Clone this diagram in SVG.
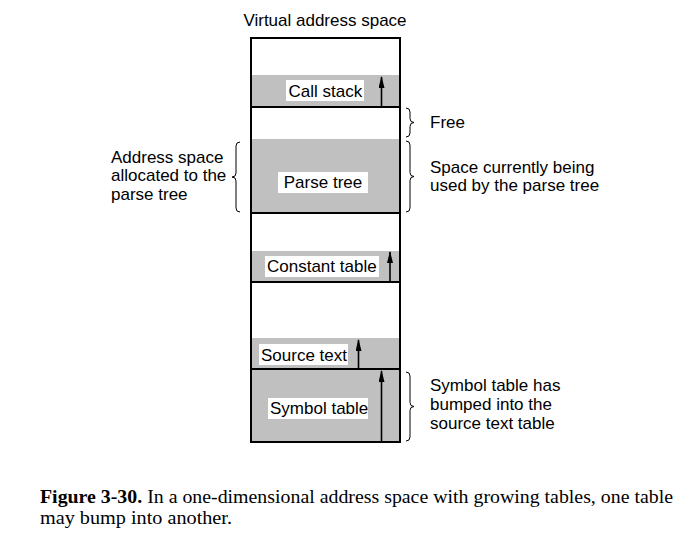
<svg xmlns="http://www.w3.org/2000/svg" width="695" height="538" viewBox="0 0 695 538">
<defs>
<style>
.t{font-family:"Liberation Sans",Arial,sans-serif;font-size:17px;fill:#000}
.cap{font-family:"Liberation Serif","Times New Roman",serif;font-size:18px;fill:#000}
.band{fill:#c0c0c0}
.lbl{fill:#fff}
.sep{stroke:#000;stroke-width:2;fill:none}
.arr{stroke:#000;stroke-width:1.6;fill:none}
.br{stroke:#000;stroke-width:1;fill:none}
</style>
<marker id="ah" viewBox="0 0 12 6" refX="11" refY="3" markerWidth="12" markerHeight="6" markerUnits="userSpaceOnUse" orient="auto">
<path d="M0,0 L12,3 L0,6 Z" fill="#000"/>
</marker>
</defs>
<rect width="695" height="538" fill="#fff"/>
<text class="t" x="325" y="26" text-anchor="middle">Virtual address space</text>
<g id="memory">
<rect class="band" x="251" y="75" width="149" height="32"/>
<rect class="band" x="251" y="139" width="149" height="74"/>
<rect class="band" x="251" y="251" width="149" height="31"/>
<rect class="band" x="251" y="338" width="149" height="31"/>
<rect class="band" x="251" y="369" width="149" height="73"/>
<line class="sep" x1="251" y1="107" x2="400" y2="107"/>
<line class="sep" x1="251" y1="213" x2="400" y2="213"/>
<line class="sep" x1="251" y1="282" x2="400" y2="282"/>
<line class="sep" x1="251" y1="369" x2="400" y2="369"/>
<rect class="sep" x="251" y="38" width="149" height="404"/>
</g>
<g id="call-stack">
<rect class="lbl" x="286" y="80" width="78" height="21"/>
<text class="t" x="288.5" y="97">Call stack</text>
</g>
<g id="parse-tree">
<rect class="lbl" x="278" y="172" width="90" height="21"/>
<text class="t" x="323" y="188" text-anchor="middle">Parse tree</text>
</g>
<g id="constant-table">
<rect class="lbl" x="265" y="256" width="114" height="21"/>
<text class="t" x="267" y="272">Constant table</text>
</g>
<g id="source-text">
<rect class="lbl" x="259" y="344" width="89" height="21"/>
<text class="t" x="261" y="361">Source text</text>
</g>
<g id="symbol-table">
<rect class="lbl" x="268" y="398" width="100" height="21"/>
<text class="t" x="270" y="414">Symbol table</text>
</g>
<g id="connectors">
<line class="arr" x1="381.5" y1="106" x2="381.5" y2="77" marker-end="url(#ah)"/>
<line class="arr" x1="390" y1="281" x2="390" y2="252" marker-end="url(#ah)"/>
<line class="arr" x1="358.5" y1="368" x2="358.5" y2="340" marker-end="url(#ah)"/>
<line class="arr" x1="381.5" y1="441" x2="381.5" y2="371" marker-end="url(#ah)"/>
</g>
<g id="annotations">
<path class="br" d="M406,108 Q410,108 410,112 L410,118.5 Q410,122.5 414,122.5 Q410,122.5 410,126.5 L410,133 Q410,137 406,137"/>
<text class="t" x="430" y="128">Free</text>
<path class="br" d="M406,141 Q410,141 410,145 L410,172.5 Q410,176.5 414,176.5 Q410,176.5 410,180.5 L410,208 Q410,212 406,212"/>
<text class="t" x="430" y="173">Space currently being</text>
<text class="t" x="430" y="191">used by the parse tree</text>
<path class="br" d="M240,142 Q236,142 236,146 L236,173 Q236,177 232,177 Q236,177 236,181 L236,208 Q236,212 240,212"/>
<text class="t" x="111" y="162.5">Address space</text>
<text class="t" x="111" y="181">allocated to the</text>
<text class="t" x="111" y="199.5">parse tree</text>
<path class="br" d="M406,372 Q410,372 410,376 L410,402.5 Q410,406.5 414,406.5 Q410,406.5 410,410.5 L410,437 Q410,441 406,441"/>
<text class="t" x="430" y="391">Symbol table has</text>
<text class="t" x="430" y="410">bumped into the</text>
<text class="t" x="430" y="429">source text table</text>
</g>
<text class="cap" x="40" y="503" textLength="633" lengthAdjust="spacingAndGlyphs"><tspan font-weight="bold">Figure 3-30.</tspan>  In a one-dimensional address space with growing tables, one table</text>
<text class="cap" x="40" y="524" textLength="192" lengthAdjust="spacingAndGlyphs">may bump into another.</text>
</svg>
